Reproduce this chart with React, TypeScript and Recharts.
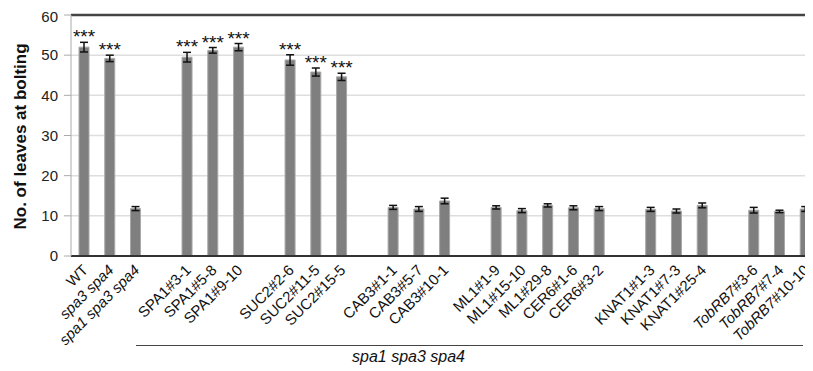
import { BarChart, Bar, XAxis, YAxis, CartesianGrid, ErrorBar, LabelList, ReferenceLine } from 'recharts';

// empty strings are spacer slots between genotype groups
const lines = [
  'WT', 'spa3 spa4', 'spa1 spa3 spa4', '',
  'SPA1#3-1', 'SPA1#5-8', 'SPA1#9-10', '',
  'SUC2#2-6', 'SUC2#11-5', 'SUC2#15-5', '',
  'CAB3#1-1', 'CAB3#5-7', 'CAB3#10-1', '',
  'ML1#1-9', 'ML1#15-10', 'ML1#29-8', 'CER6#1-6', 'CER6#3-2', '',
  'KNAT1#1-3', 'KNAT1#7-3', 'KNAT1#25-4', '',
  'TobRB7#3-6', 'TobRB7#7-4', 'TobRB7#10-10',
];
const leaves = [
  52.0, 49.2, 11.8, null,
  49.5, 51.2, 52.0, null,
  48.8, 45.8, 44.6, null,
  12.1, 11.7, 13.7, null,
  12.1, 11.3, 12.6, 12.0, 11.8, null,
  11.6, 11.2, 12.6, null,
  11.4, 11.1, 11.7,
];
const errors = [
  1.2, 0.8, 0.5, null,
  1.2, 0.7, 0.9, null,
  1.3, 1.0, 0.9, null,
  0.5, 0.6, 0.7, null,
  0.4, 0.5, 0.4, 0.5, 0.5, null,
  0.5, 0.5, 0.6, null,
  0.7, 0.3, 0.6,
];
const significant = [
  true, true, false, false,
  true, true, true, false,
  true, true, true, false,
  false, false, false, false,
  false, false, false, false, false, false,
  false, false, false, false,
  false, false, false,
];
const italicLabels = ['spa3 spa4', 'spa1 spa3 spa4'];
const italicPrefix = ['TobRB7'];

const data = lines.map((name, i) => ({
  id: `c${i}`,
  name,
  leaves: leaves[i],
  err: errors[i],
  sig: significant[i],
}));

const font = 'Arial, "Liberation Sans", sans-serif';

function CategoryTick(props: any) {
  const { x, y, payload } = props;
  const label = data[payload.index]?.name ?? '';
  if (!label) return null;
  const prefix = italicPrefix.find((p) => label.startsWith(p));
  return (
    <g transform={`translate(${x + 5},${y + 7})`}>
      <text
        x={0}
        y={0}
        textAnchor="end"
        transform="rotate(-45)"
        fontSize={15}
        fontFamily={font}
        fill="#111"
        fontStyle={italicLabels.includes(label) ? 'italic' : 'normal'}
      >
        {prefix ? (
          <>
            <tspan fontStyle="italic">{prefix}</tspan>
            <tspan>{label.slice(prefix.length)}</tspan>
          </>
        ) : (
          label
        )}
      </text>
    </g>
  );
}

// LabelList gets the row id as its value, so the row can be looked up directly
function Stars(props: any) {
  const { x, y, width, height, value } = props;
  const row = data.find((d) => d.id === value);
  if (!row || !row.sig || row.leaves == null) return null;
  const perUnit = height / row.leaves;
  const top = y - (row.err ?? 0) * perUnit;
  return (
    <text x={x + width / 2} y={top + 1} textAnchor="middle" fontSize={19} fontFamily={font} fill="#111">
      ***
    </text>
  );
}

export default function App() {
  return (
    <div style={{ position: 'relative', width: 805, height: 363, overflow: 'hidden' }}>
      <BarChart
        width={810}
        height={363}
        data={data}
        margin={{ top: 7, right: 0, bottom: 0, left: 0 }}
        barCategoryGap={0}
      >
        <CartesianGrid vertical={false} stroke="#dedede" strokeWidth={1.5} />
        <XAxis
          dataKey="id"
          interval={0}
          height={115}
          tick={<CategoryTick />}
          tickLine={false}
          axisLine={{ stroke: '#333', strokeWidth: 2 }}
        />
        <YAxis
          width={63}
          domain={[0, 60]}
          ticks={[0, 10, 20, 30, 40, 50, 60]}
          tickSize={7}
          tickMargin={6}
          tickLine={{ stroke: '#aaa' }}
          axisLine={{ stroke: '#aaa' }}
          tick={{ fontSize: 15, fontFamily: font, fill: '#222' }}
          label={{
            value: 'No. of leaves at bolting',
            angle: -90,
            position: 'insideLeft',
            dx: 7,
            dy: 94,
            style: { fontSize: 17, fontWeight: 'bold', fontFamily: font, fill: '#111' },
          }}
        />
        <ReferenceLine y={60} stroke="#444" strokeWidth={2.5} />
        <Bar dataKey="leaves" fill="#7f7f7f" stroke="#a8a8a8" strokeWidth={1} barSize={10} isAnimationActive={false}>
          <ErrorBar dataKey="err" width={4} stroke="#111" strokeWidth={1.5} />
          <LabelList dataKey="id" content={<Stars />} />
        </Bar>
      </BarChart>
      <div
        style={{
          position: 'absolute',
          left: 128,
          top: 337,
          width: 667,
          borderTop: '1.5px solid #444',
        }}
      />
      <div
        style={{
          position: 'absolute',
          left: 344,
          top: 340,
          fontFamily: font,
          fontSize: 16,
          fontStyle: 'italic',
          color: '#111',
          whiteSpace: 'nowrap',
        }}
      >
        spa1 spa3 spa4
      </div>
    </div>
  );
}
